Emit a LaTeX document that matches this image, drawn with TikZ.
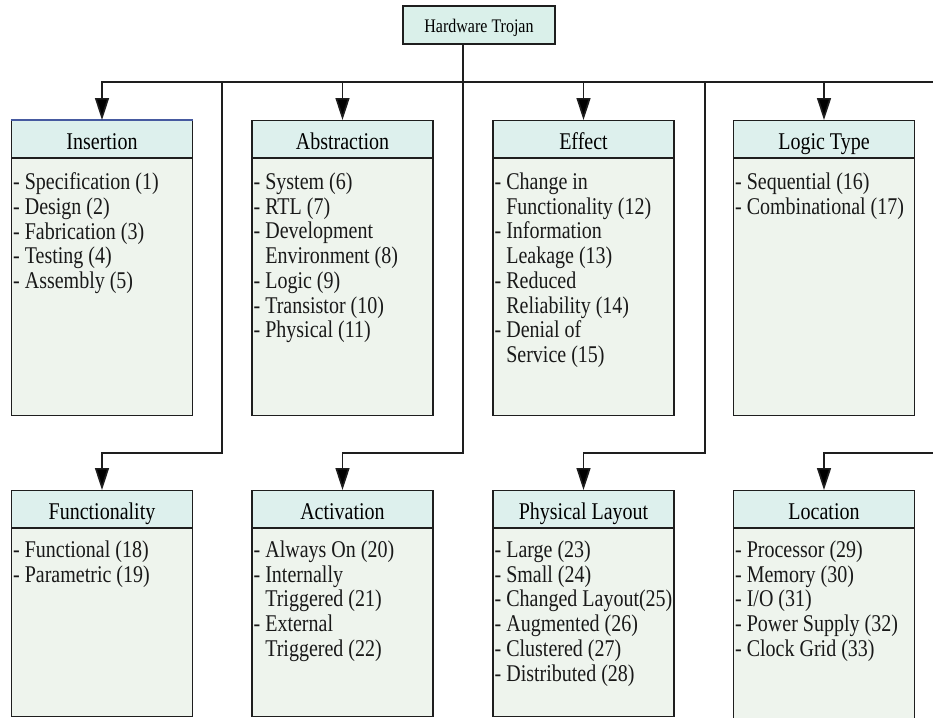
\documentclass[tikz,border=0pt]{standalone}
\usepackage{fontspec}
\setmainfont{Liberation Serif}
\usepackage{graphicx}
\usetikzlibrary{arrows.meta}
\definecolor{hdrfill}{RGB}{221,240,237}
\definecolor{bodyfill}{RGB}{238,244,237}
\definecolor{rootfill}{RGB}{218,240,234}
\definecolor{edgec}{RGB}{30,30,30}
\definecolor{insblue}{RGB}{70,90,160}
\newcommand\li[1]{\scalebox{1}[1.2]{#1}}
\newcommand\hang{\phantom{- }}
\newcommand\catbox[7]{%
  \node[hdr] (#1) at (#2,#3) {\li{#5}};
  \node[bodybox, minimum height=#4pt] (#1b) at (#1.south) {};
  \node[bodytext] (#1t) at ([xshift=2pt,yshift=#6pt]#1b.north west) {#7};
}
\begin{document}
\begin{tikzpicture}[x=1pt,y=-1pt,
  hdr/.style={draw=edgec, line width=1.1pt, fill=hdrfill, minimum width=181pt,
    minimum height=37pt, inner sep=0pt, anchor=north, text height=22pt, text depth=2pt,
    font=\fontsize{20}{24}\selectfont},
  bodybox/.style={draw=edgec, line width=1.1pt, fill=bodyfill, minimum width=181pt,
    inner sep=0pt, anchor=north},
  bodytext/.style={anchor=north west, inner sep=0pt, align=left, text=black!90,
    font=\fontsize{20}{24.7}\selectfont},
  rootbox/.style={draw=edgec, line width=1.1pt, fill=rootfill, minimum width=152pt,
    minimum height=38pt, inner sep=0pt, text height=18pt, text depth=2pt,
    font=\fontsize{16}{19}\selectfont},
  conn/.style={draw=edgec, line width=1.6pt},
  arr/.style={conn, -{Triangle[length=22pt,width=14pt,fill=black]}}]
\useasboundingbox (0,0) rectangle (933,717);
\fill[white] (0,0) rectangle (933,717);
\clip (0,0) rectangle (933,717);

\node[rootbox] (root) at (479,25) {\li{Hardware Trojan}};

\catbox{ins}{102}{120}{257}{Insertion}{-14.6}{%
  \li{- Specification (1)}\\ \li{- Design (2)}\\ \li{- Fabrication (3)}\\
  \li{- Testing (4)}\\ \li{- Assembly (5)}}
\draw[insblue, line width=1.1pt] (ins.north west) -- (ins.north east);
\catbox{abs}{342.5}{120}{257}{Abstraction}{-14.6}{%
  \li{- System (6)}\\ \li{- RTL (7)}\\ \li{- Development}\\
  \li{\hang Environment (8)}\\ \li{- Logic (9)}\\ \li{- Transistor (10)}\\
  \li{- Physical (11)}}
\catbox{eff}{583.5}{120}{257}{Effect}{-14.6}{%
  \li{- Change in}\\ \li{\hang Functionality (12)}\\ \li{- Information}\\
  \li{\hang Leakage (13)}\\ \li{- Reduced}\\ \li{\hang Reliability (14)}\\
  \li{- Denial of}\\ \li{\hang Service (15)}}
\catbox{log}{824}{120}{257}{Logic Type}{-14.6}{%
  \li{- Sequential (16)}\\ \li{- Combinational (17)}}

\catbox{fun}{102}{490}{188}{Functionality}{-12.6}{%
  \li{- Functional (18)}\\ \li{- Parametric (19)}}
\catbox{act}{342.5}{490}{188}{Activation}{-12.6}{%
  \li{- Always On (20)}\\ \li{- Internally}\\ \li{\hang Triggered (21)}\\
  \li{- External}\\ \li{\hang Triggered (22)}}
\catbox{phy}{583.5}{490}{188}{Physical Layout}{-12.6}{%
  \li{- Large (23)}\\ \li{- Small (24)}\\ \li{- Changed Layout(25)}\\
  \li{- Augmented (26)}\\ \li{- Clustered (27)}\\ \li{- Distributed (28)}}
\catbox{loc}{824}{490}{240}{Location}{-12.6}{%
  \li{- Processor (29)}\\ \li{- Memory (30)}\\ \li{- I/O (31)}\\
  \li{- Power Supply (32)}\\ \li{- Clock Grid (33)}}

\coordinate (rs) at ([xshift=-16pt]root.south);
\coordinate (bus) at (0,82);
\coordinate (low) at (0,453);
\coordinate (f1) at (222,82);
\coordinate (p1) at (705,82);
\coordinate (off) at (950,82);

\draw[arr] (rs) -- (rs |- bus) -| (ins.north);
\draw[arr] (rs) -- (rs |- bus) -| (abs.north);
\draw[arr] (rs) -- (rs |- bus) -| (eff.north);
\draw[arr] (rs) -- (rs |- bus) -| (log.north);
\draw[arr] (rs) -- (rs |- bus) -- (f1) -- (f1 |- low) -| (fun.north);
\draw[arr] (rs) -- (rs |- low) -| (act.north);
\draw[arr] (rs) -- (rs |- bus) -- (p1) -- (p1 |- low) -| (phy.north);
\draw[arr] (rs) -- (rs |- bus) -- (off) -- (off |- low) -| (loc.north);
\end{tikzpicture}
\end{document}
